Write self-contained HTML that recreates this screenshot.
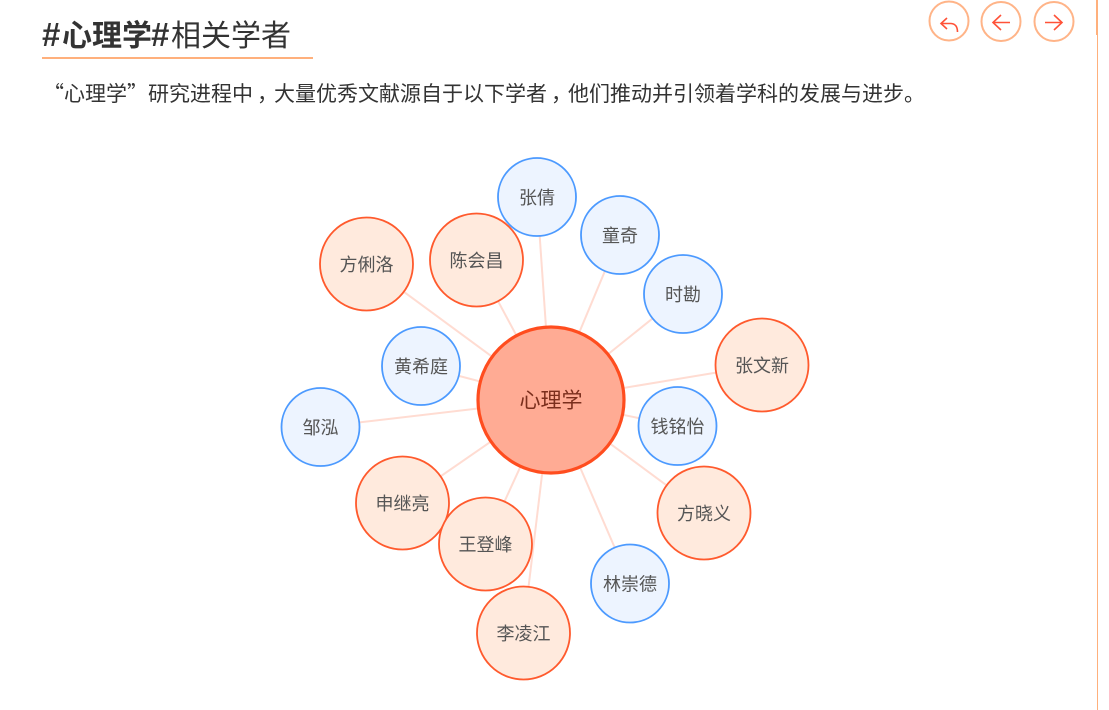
<!DOCTYPE html>
<html lang="zh">
<head>
<meta charset="utf-8">
<style>
html,body{margin:0;padding:0;background:#fff;width:1109px;height:710px;overflow:hidden}
svg{display:block;position:absolute;left:0;top:0}
text{font-family:"Liberation Sans","Noto Sans CJK SC",sans-serif}
.p{font-family:"Noto Sans CJK SC",sans-serif}
.n{font-size:18px;fill:#555;text-anchor:middle;dominant-baseline:central}
.l line{stroke:#ffdcd2;stroke-width:2}
.b{fill:#edf4ff;stroke:#4c9aff;stroke-width:1.8}
.o{fill:#ffeadd;stroke:#ff5a2d;stroke-width:1.8}
</style>
</head>
<body>
<svg width="1109" height="710" viewBox="0 0 1109 710" xmlns="http://www.w3.org/2000/svg">
<text y="46" font-size="30" fill="#333"><tspan x="42" font-weight="bold" font-size="33">#</tspan><tspan x="62" font-weight="bold">心理学</tspan><tspan x="151" font-weight="bold" font-size="33">#</tspan><tspan x="171">相关学者</tspan></text>
<rect x="42" y="57" width="271" height="2" fill="#ffb07c"/>
<text class="p" x="43" y="101" font-size="21" fill="#333">“心理学”研究进程中<tspan dx="4">，</tspan><tspan dx="-4">大量优秀文献源自于以下学者</tspan><tspan dx="4">，</tspan><tspan dx="-4">他们推动并引领着学科的发展与进步。</tspan></text>

<rect x="1096" y="0" width="2" height="35" fill="#ffb07c"/>
<rect x="1097" y="35" width="1" height="675" fill="#ffb07c"/>

<g fill="#fff" stroke="#ffb488" stroke-width="2">
<circle cx="949" cy="21" r="19.5"/>
<circle cx="1001" cy="21.5" r="19.5"/>
<circle cx="1054" cy="21.5" r="19.5"/>
</g>
<g fill="none" stroke="#ff5238" stroke-width="1.6">
<path d="M947 18 L941 23.5 L947 29 M941 23.5 L951 23.5 Q957.500 24 957.500 32"/>
<path d="M1001 15 L993 22.500 L1001 30 M993 22.500 L1010 22.500"/>
<path d="M1054 15 L1062 22.500 L1054 30 M1045 22.500 L1062 22.500"/>
</g>

<g class="l">
<line x1="551" y1="400" x2="537" y2="197"/>
<line x1="551" y1="400" x2="620" y2="235"/>
<line x1="551" y1="400" x2="683" y2="294"/>
<line x1="551" y1="400" x2="762" y2="365"/>
<line x1="551" y1="400" x2="677" y2="426"/>
<line x1="551" y1="400" x2="704" y2="513"/>
<line x1="551" y1="400" x2="630" y2="583"/>
<line x1="551" y1="400" x2="523" y2="633"/>
<line x1="551" y1="400" x2="485" y2="544"/>
<line x1="551" y1="400" x2="402" y2="503"/>
<line x1="551" y1="400" x2="320" y2="427"/>
<line x1="551" y1="400" x2="421" y2="366"/>
<line x1="551" y1="400" x2="366" y2="264"/>
<line x1="551" y1="400" x2="476" y2="260"/>
</g>

<circle cx="551" cy="400" r="73" fill="#ffab94" stroke="#ff4d1f" stroke-width="3.2"/>
<text class="n" x="551" y="401" style="font-size:21px;fill:#7a2e1c">心理学</text>

<circle class="b" cx="537" cy="197" r="39"/><text class="n" x="537" y="198">张倩</text>
<circle class="b" cx="620" cy="235" r="39"/><text class="n" x="620" y="236">童奇</text>
<circle class="b" cx="683" cy="294" r="39"/><text class="n" x="683" y="295">时勘</text>
<circle class="b" cx="677.500" cy="426" r="39"/><text class="n" x="677.500" y="427">钱铭怡</text>
<circle class="b" cx="630" cy="583.500" r="39"/><text class="n" x="630" y="584.500">林崇德</text>
<circle class="b" cx="421" cy="366" r="39"/><text class="n" x="421" y="367">黄希庭</text>
<circle class="b" cx="320.500" cy="427" r="39"/><text class="n" x="320.500" y="428">邹泓</text>

<circle class="o" cx="366.500" cy="264" r="46.500"/><text class="n" x="366.500" y="265">方俐洛</text>
<circle class="o" cx="476.500" cy="260" r="46.500"/><text class="n" x="476.500" y="261">陈会昌</text>
<circle class="o" cx="762" cy="365" r="46.500"/><text class="n" x="762" y="366">张文新</text>
<circle class="o" cx="704" cy="513" r="46.500"/><text class="n" x="704" y="514">方晓义</text>
<circle class="o" cx="523.500" cy="633" r="46.500"/><text class="n" x="523.500" y="634">李凌江</text>
<circle class="o" cx="402.500" cy="503" r="46.500"/><text class="n" x="402.500" y="504">申继亮</text>
<circle class="o" cx="485.500" cy="544" r="46.500"/><text class="n" x="485.500" y="545">王登峰</text>
</svg>
</body>
</html>
